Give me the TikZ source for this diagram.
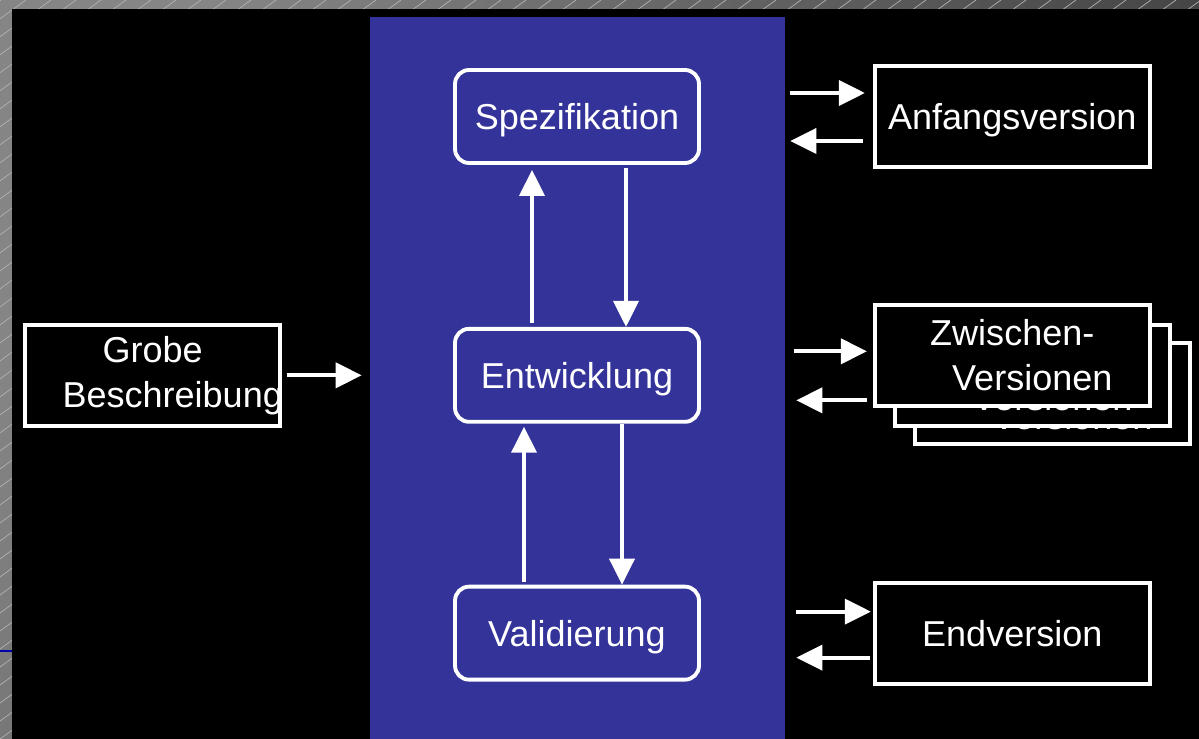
\documentclass[tikz,border=0pt]{standalone}
\usepackage{fontspec}
\setmainfont{Liberation Sans}
\usetikzlibrary{arrows.meta, positioning, calc}
\definecolor{panelblue}{RGB}{51,51,153}
\definecolor{markblue}{RGB}{0,0,170}

\begin{document}
\begin{tikzpicture}[
  x=0.02cm, y=-0.02cm,
  >={Triangle[length=0.52cm, width=0.5cm]},
  phasebox/.style={draw=white, line width=2.2pt, rounded corners=0.28cm, minimum width=4.88cm, minimum height=1.86cm, inner sep=0pt, text=white, font=\fontsize{20.5}{25.5}\selectfont, text height=14.7pt, text depth=0pt},
  verbox/.style={draw=white, fill=black, line width=2.2pt, minimum width=5.5cm, minimum height=2.02cm, inner sep=0pt, text=white, font=\fontsize{20.5}{25.5}\selectfont, align=center},
  singleline/.style={text height=14.7pt, text depth=0pt},
  panelbox/.style={fill=panelblue, minimum width=8.3cm, minimum height=14.44cm, inner sep=0pt},
  flow/.style={->, white, line width=2.2pt},
  hatch/.style={black!30, line width=0.4pt}
]
\useasboundingbox (0,0) rectangle (1199,739);

% frame
\shade[top color=black!48, bottom color=black!78, shading angle=60] (0,0) rectangle (1199,739);
\begin{scope}
  \clip (0,0) rectangle (1199,739);
  \foreach \k in {-42,...,48} \draw[hatch] (\k*25,739) -- ++(1026,-739);
\end{scope}
\fill[black] (12,9) rectangle (1199,739);
\draw[markblue, line width=1.2pt] (0,651) -- (12,651);

\node[panelbox] (panel) at (577.5,378) {};

\node[phasebox] (spez) at (577,116.5) {Spezifikation};
\node[phasebox] (entw) [below=3.24cm of spez] {Entwicklung};
\node[phasebox] (valid) [below=3.22cm of entw] {Validierung};

\node[verbox] (grobe) [left=3.42cm of entw, minimum width=5.1cm] {\makebox[0pt]{Grobe}\\\makebox[0pt]{\hspace{0.8cm}Beschreibung}};

\node[verbox, singleline] (anfang) [right=3.44cm of spez] {Anfangsversion};
\node[verbox] (zwischenC) [right=4.24cm of entw, yshift=-0.37cm] {\makebox[0pt]{Zwischen-}\\\makebox[0pt]{\hspace{0.8cm}Versionen}};
\node[verbox] (zwischenB) [right=3.84cm of entw] {\makebox[0pt]{Zwischen-}\\\makebox[0pt]{\hspace{0.8cm}Versionen}};
\node[verbox] (zwischen) [right=3.44cm of entw, yshift=0.4cm] {\makebox[0pt]{Zwischen-}\\\makebox[0pt]{\hspace{0.8cm}Versionen}};
\node[verbox, singleline] (endv) [right=3.44cm of valid] {Endversion};

\draw[flow, shorten <=0.08cm, shorten >=0.1cm] ([xshift=-0.9cm]entw.north) -- ([xshift=-0.9cm]spez.south);
\draw[flow, shorten <=0.06cm] ([xshift=0.98cm]spez.south) -- ([xshift=0.98cm]entw.north);
\draw[flow, shorten <=0.06cm, shorten >=0.06cm] ([xshift=-1.06cm]valid.north) -- ([xshift=-1.06cm]entw.south);
\draw[flow] ([xshift=0.9cm]entw.south) -- ([xshift=0.9cm]valid.north);

\draw[flow] ($(grobe.east)+(5,0)$) -- ($(panel.west |- grobe)+(-8,0)$);

\draw[flow] ($(panel.east |- spez)+(5,-23.5)$) -- ($(anfang.west |- spez)+(-8,-23.5)$);
\draw[flow] ($(anfang.west |- spez)+(-10,24.5)$) -- ($(panel.east |- spez)+(5,24.5)$);
\draw[flow] ($(panel.east |- entw)+(9,-24)$) -- ($(zwischen.west |- entw)+(-6,-24)$);
\draw[flow] ($(zwischen.west |- entw)+(-6,25)$) -- ($(panel.east |- entw)+(11,25)$);
\draw[flow] ($(panel.east |- valid)+(11,-21.5)$) -- ($(endv.west |- valid)+(-2,-21.5)$);
\draw[flow] ($(endv.west |- valid)+(-3,24.5)$) -- ($(panel.east |- valid)+(11,24.5)$);
\end{tikzpicture}
\end{document}
